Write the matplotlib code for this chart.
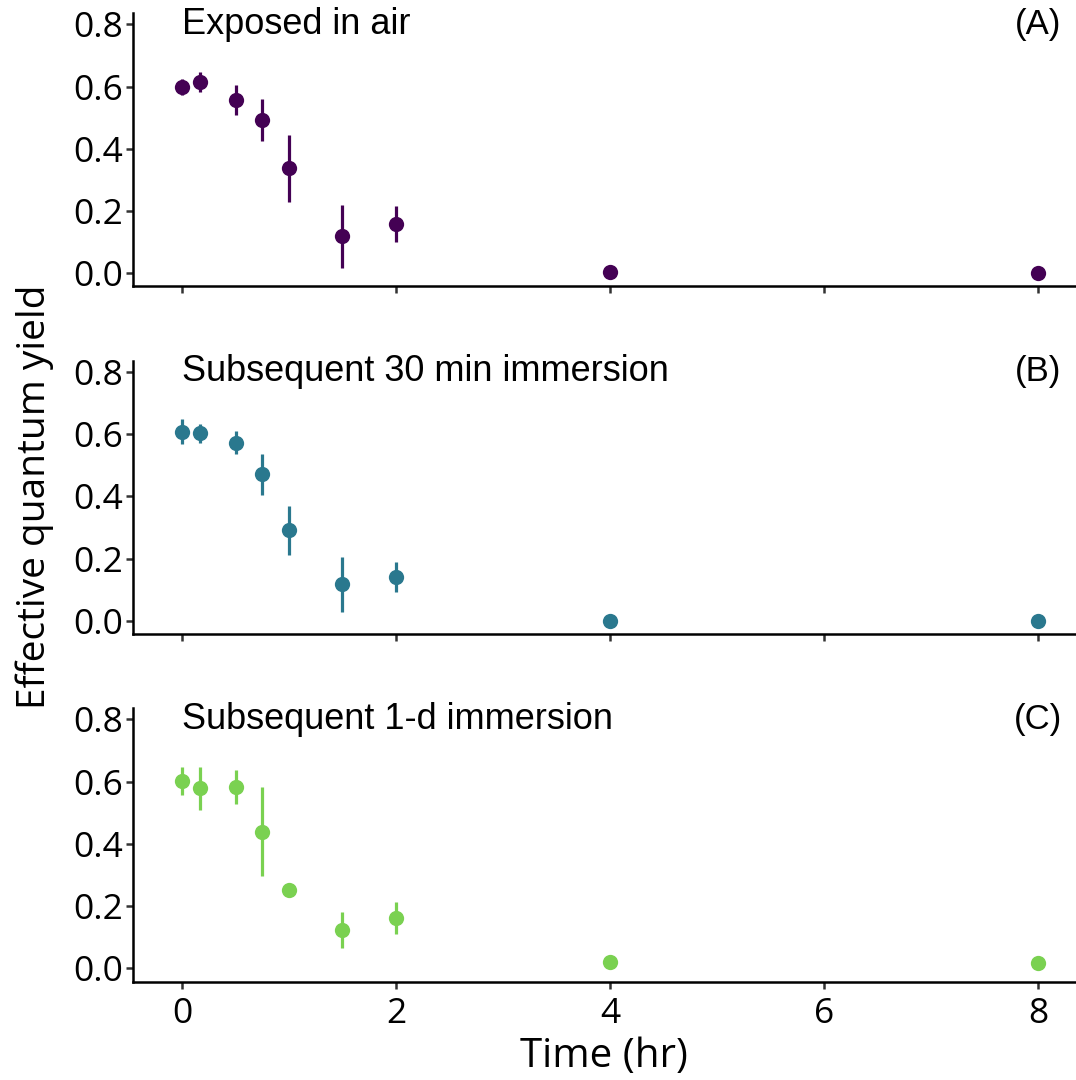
import numpy as np
import matplotlib.pyplot as plt

# sampling times (hr)
time_hr = [0, 1/6, 0.5, 0.75, 1, 1.5, 2, 4, 8]

# effective quantum yield, mean and error per panel
air_mean = [0.598, 0.614, 0.557, 0.493, 0.337, 0.119, 0.159, 0.005, 0.0]
air_err = [0.026, 0.031, 0.047, 0.067, 0.107, 0.102, 0.057, 0.0, 0.0]

imm30_mean = [0.607, 0.602, 0.572, 0.471, 0.291, 0.117, 0.141, 0.0, 0.0]
imm30_err = [0.040, 0.030, 0.037, 0.066, 0.079, 0.089, 0.048, 0.0, 0.0]

imm1d_mean = [0.602, 0.578, 0.582, 0.439, 0.252, 0.123, 0.163, 0.020, 0.017]
imm1d_err = [0.046, 0.070, 0.054, 0.142, 0.0, 0.057, 0.051, 0.0, 0.0]

titles = ['Exposed in air', 'Subsequent 30 min immersion', 'Subsequent 1-d immersion']
tags = ['(A)', '(B)', '(C)']
colors = ['#440154', '#2A788E', '#7AD151']
x_ticks = [0, 2, 4, 6, 8]
y_ticks = [0.0, 0.2, 0.4, 0.6, 0.8]

W, H = 1076, 1080
fig = plt.figure(figsize=(W / 100, H / 100), dpi=100)

tick_font = 'Open Sans'
note_font = 'Liberation Sans'

panels = [(air_mean, air_err), (imm30_mean, imm30_err), (imm1d_mean, imm1d_err)]
bottoms_px = [286.5, 634.0, 981.5]
ax_h_px = 273.5
for i, ((m, e), bot) in enumerate(zip(panels, bottoms_px)):
    ax = fig.add_axes([133 / W, 1 - bot / H, 942 / W, ax_h_px / H])
    ax.errorbar(time_hr, m, yerr=e, fmt='o', color=colors[i], ms=11,
                elinewidth=2.3, capsize=0, mew=0)
    ax.set_xlim(-0.458, 8.346)
    ax.set_ylim(-0.042, 0.836)
    ax.set_xticks(x_ticks)
    ax.set_yticks(y_ticks)
    ax.set_yticklabels([f'{v:.1f}' for v in y_ticks], family=tick_font, fontsize=25.5)
    if i == 2:
        ax.set_xticklabels([str(v) for v in x_ticks], family=tick_font, fontsize=25.5)
        ax.set_xlabel('Time (hr)', family=tick_font, fontsize=29, labelpad=4)
    else:
        ax.set_xticklabels([])
    for s in ['top', 'right']:
        ax.spines[s].set_visible(False)
    for s in ['left', 'bottom']:
        ax.spines[s].set_linewidth(1.8)
        ax.spines[s].set_color('black')
    ax.tick_params(length=5, width=1.8, color='#333333')
    ax.tick_params(axis='y', pad=2)
    ax.tick_params(axis='x', pad=6)
    ax.text(0, 0.8, titles[i], ha='left', va='center', family=note_font, fontsize=26)
    ax.text(8, 0.8, tags[i], ha='center', va='center', family=note_font, fontsize=25)

fig.text(35 / W, 1 - 497 / H, 'Effective quantum yield', rotation=90,
         ha='center', va='center', family=tick_font, fontsize=28)

fig.savefig('out.png', dpi=100)
